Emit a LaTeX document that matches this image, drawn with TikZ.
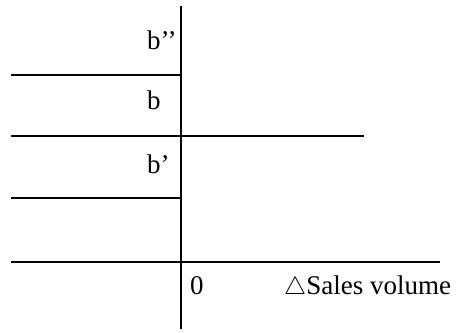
\documentclass[tikz,border=0pt]{standalone}
\usepackage{fontspec}
\setmainfont{Liberation Serif}

\begin{document}
\begin{tikzpicture}[x=1pt, y=1pt,
  axis/.style={line width=1.8pt},
  lbl/.style={anchor=base west, inner sep=0pt, font=\fontsize{27}{32}\selectfont}]
  \useasboundingbox (0,0) rectangle (457,332);

  % Vertical axis
  \coordinate (top) at (181,326);
  \coordinate (bot) at (181,3);
  \draw[axis] (top) -- (bot);

  % Left-hand lines ending at the axis
  \coordinate (a1) at (11,257);
  \coordinate (a2) at (181,257);
  \draw[axis] (a1) -- (a2);
  \coordinate (c1) at (11,134);
  \coordinate (c2) at (181,134);
  \draw[axis] (c1) -- (c2);

  % Lines crossing the axis
  \coordinate (b1) at (11,196);
  \coordinate (b2) at (364,196);
  \draw[axis] (b1) -- (b2);
  \coordinate (d1) at (11,70);
  \coordinate (d2) at (440,70);
  \draw[axis] (d1) -- (d2);

  % Labels
  \node[lbl] (bpp) at (147,282) {b’’};
  \node[lbl] (bb) at (147,222) {b};
  \node[lbl] (bp) at (147,158) {b’};
  \node[lbl] (zero) at (190,38) {0};
  \node[lbl] (sales) at (284,38) {$\triangle$Sales volume};
\end{tikzpicture}
\end{document}
